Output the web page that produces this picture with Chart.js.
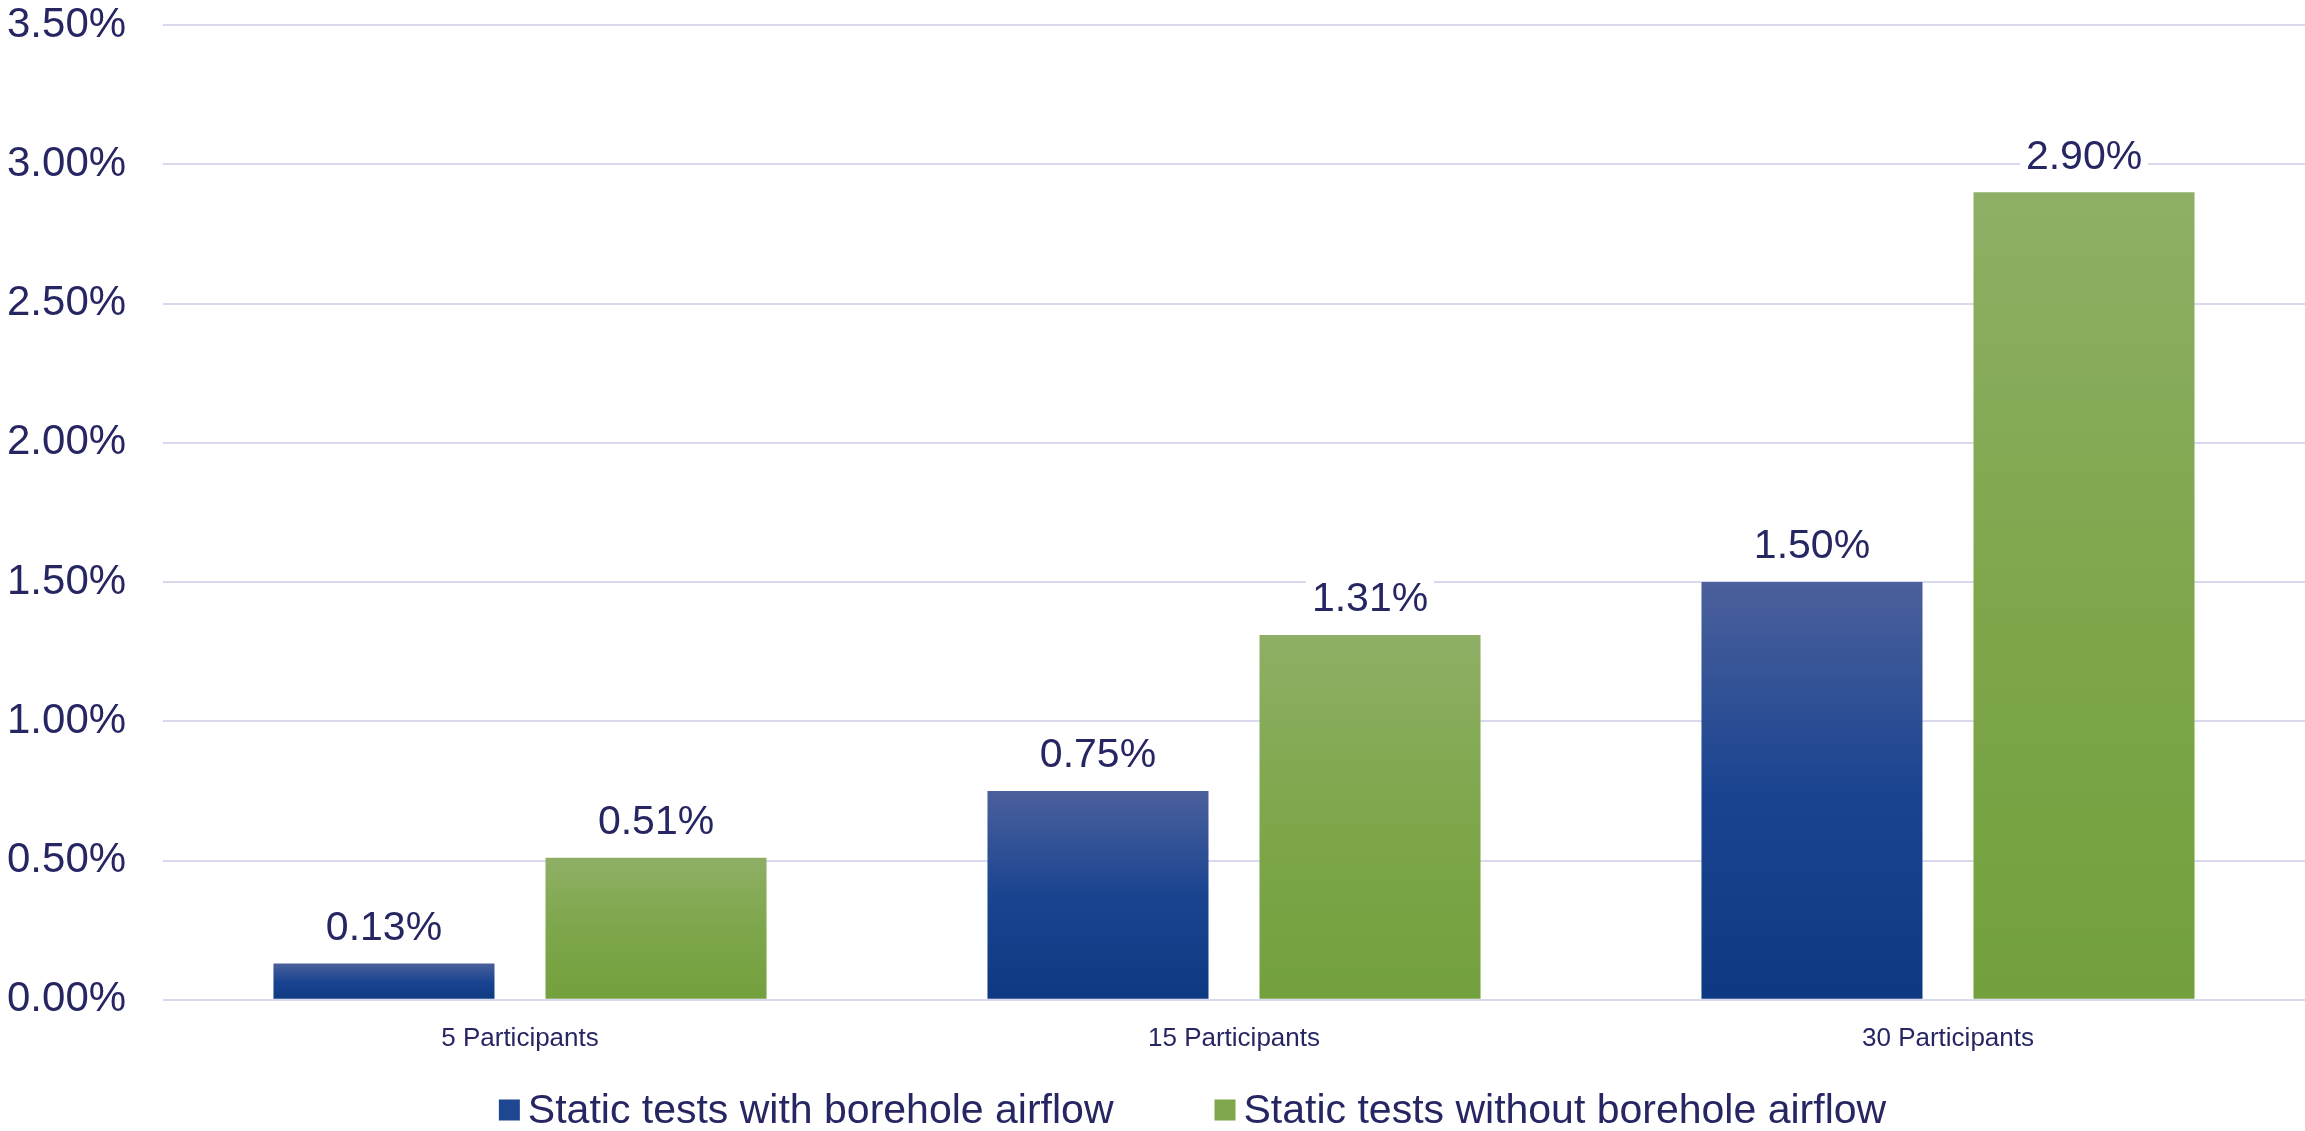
<!DOCTYPE html>
<html>
<head>
<meta charset="utf-8">
<script src="https://cdn.jsdelivr.net/npm/chart.js@4.4.1/dist/chart.umd.min.js"></script>
<style>
  html, body { margin: 0; padding: 0; background: #ffffff; }
  #wrap { width: 2305px; height: 1131px; }
</style>
</head>
<body>
<div id="wrap"><canvas id="chart"></canvas></div>
<script>
// Datos
const categories = ['5 Participants', '15 Participants', '30 Participants'];
const withAirflow = [0.13, 0.75, 1.50];
const withoutAirflow = [0.51, 1.31, 2.90];
const seriesNames = ['Static tests with borehole airflow', 'Static tests without borehole airflow'];

const TEXT = '#262663';
const GRID = '#d8d8ee';
const FONT = '"Liberation Sans", Arial, sans-serif';

const blueStops = ['#4b609c', '#1a4490', '#0d3982'];
const greenStops = ['#8eaf65', '#7ea74b', '#73a03d'];
const legendColors = ['#1f4690', '#7ea74b'];

// Degradado vertical para cada barra (de arriba hacia la base)
function barGradient(stops) {
  return (c) => {
    const chart = c.chart;
    if (!chart.chartArea || c.type !== 'data') return stops[stops.length - 1];
    const y = chart.scales.y;
    const top = y.getPixelForValue(c.raw);
    const base = y.getPixelForValue(0);
    if (!(base > top)) return stops[stops.length - 1];
    const g = chart.ctx.createLinearGradient(0, top, 0, base);
    stops.forEach((col, i) => g.addColorStop(i / (stops.length - 1), col));
    return g;
  };
}

// Etiquetas de valor sobre las barras, con fondo blanco
const valueLabels = {
  id: 'valueLabels',
  afterDatasetsDraw(chart) {
    const ctx = chart.ctx;
    ctx.save();
    ctx.font = '41px ' + FONT;
    ctx.textAlign = 'center';
    ctx.textBaseline = 'middle';
    chart.data.datasets.forEach((ds, i) => {
      chart.getDatasetMeta(i).data.forEach((bar, j) => {
        const txt = ds.data[j].toFixed(2) + '%';
        const w = ctx.measureText(txt).width;
        const cy = bar.y - 35;
        ctx.fillStyle = '#ffffff';
        ctx.fillRect(bar.x - w / 2 - 6, cy - 22, w + 12, 44);
        ctx.fillStyle = TEXT;
        ctx.fillText(txt, bar.x, cy);
      });
    });
    ctx.restore();
  }
};

// Leyenda inferior dibujada a mano (más separación entre elementos)
const bottomLegend = {
  id: 'bottomLegend',
  afterDraw(chart) {
    const ctx = chart.ctx;
    const box = 21, gapText = 8, gapItem = 101;
    ctx.save();
    ctx.font = '41px ' + FONT;
    ctx.textBaseline = 'middle';
    const widths = seriesNames.map((t) => ctx.measureText(t).width);
    const total = widths.reduce((a, w) => a + box + gapText + w, 0) + gapItem * (seriesNames.length - 1);
    let x = chart.width / 2 + 40 - total / 2;
    const cy = chart.height - 19;
    seriesNames.forEach((t, i) => {
      ctx.fillStyle = legendColors[i];
      ctx.fillRect(x, cy - box / 2 - 2, box, box);
      x += box + gapText;
      ctx.fillStyle = TEXT;
      ctx.fillText(t, x, cy);
      x += widths[i] + gapItem;
    });
    ctx.restore();
  }
};

new Chart(document.getElementById('chart'), {
  type: 'bar',
  data: {
    labels: categories,
    datasets: [
      {
        label: seriesNames[0],
        data: withAirflow,
        backgroundColor: barGradient(blueStops),
        categoryPercentage: 0.762,
        barPercentage: 0.8125
      },
      {
        label: seriesNames[1],
        data: withoutAirflow,
        backgroundColor: barGradient(greenStops),
        categoryPercentage: 0.762,
        barPercentage: 0.8125
      }
    ]
  },
  options: {
    responsive: true,
    maintainAspectRatio: false,
    animation: false,
    layout: { padding: { top: 0, right: 0, left: 7, bottom: 62 } },
    scales: {
      x: {
        grid: { display: false },
        border: { display: false },
        ticks: { color: TEXT, font: { family: FONT, size: 26 }, padding: 15 }
      },
      y: {
        min: 0,
        max: 3.5,
        afterFit: (s) => { s.width = 156; },
        grid: { color: GRID, lineWidth: 2, drawTicks: false },
        border: { display: false },
        ticks: {
          stepSize: 0.5,
          padding: 0,
          crossAlign: 'far',
          color: TEXT,
          font: { family: FONT, size: 42 },
          callback: (v) => v.toFixed(2) + '%'
        }
      }
    },
    plugins: {
      tooltip: { enabled: false },
      legend: { display: false }
    }
  },
  plugins: [valueLabels, bottomLegend]
});
</script>
</body>
</html>
